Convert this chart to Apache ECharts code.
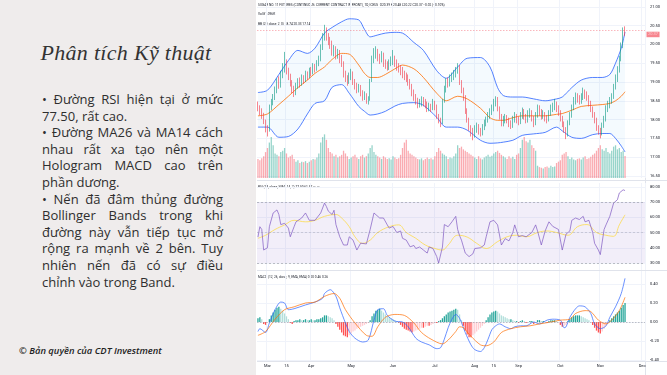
<!DOCTYPE html>
<html>
<head>
<meta charset="utf-8">
<script src="https://cdn.jsdelivr.net/npm/echarts@6/dist/echarts.min.js"></script>
<style>
html, body { margin: 0; padding: 0; width: 667px; height: 375px; overflow: hidden; background: #fff; }
#chart { position: absolute; left: 0; top: 0; width: 667px; height: 375px; }
#side { position: absolute; left: 0; top: 0; width: 256px; height: 375px; background: #efecec; color: #2e2e2e; font-family: 'Open Sans', sans-serif; }
#title { position: absolute; left: 0; top: 38px; width: 252px; line-height: 30px; text-align: center; font-family: 'Liberation Serif', serif; font-style: italic; font-size: 22px; letter-spacing: 0.3px; color: #333; }
#notes { position: absolute; left: 42px; top: 91px; width: 181px; font-size: 13px; line-height: 16.6px; }
#notes div { text-align: justify; text-align-last: justify; }
#notes div.end { text-align-last: left; }
#copy { position: absolute; left: 19px; top: 345px; font-size: 9.4px; line-height: 12px; font-style: italic; font-weight: 600; color: #222; }
</style>
</head>
<body>
<div id="chart"></div>
<div id="side">
  <div id="title">Phân tích Kỹ thuật</div>
  <div id="notes">
    <div>• Đường RSI hiện tại ở mức</div>
    <div class="end">77.50, rất cao.</div>
    <div>• Đường MA26 và MA14 cách</div>
    <div>nhau rất xa tạo nên một</div>
    <div>Hologram MACD cao trên</div>
    <div class="end">phần dương.</div>
    <div>• Nến đã đâm thủng đường</div>
    <div>Bollinger Bands trong khi</div>
    <div>đường này vẫn tiếp tục mở</div>
    <div>rộng ra mạnh về 2 bên. Tuy</div>
    <div>nhiên nến đã có sự điều</div>
    <div class="end">chỉnh vào trong Band.</div>
  </div>
  <div id="copy">© Bản quyền của CDT Investment</div>
</div>
<script>
// ---- data ----
const firstDay = '2022-02-22', lastDay = '2022-12-02';
const monthNames = ['Jan', 'Feb', 'Mar', 'Apr', 'May', 'Jun', 'Jul', 'Aug', 'Sep', 'Oct', 'Nov', 'Dec'];
const midMonthDays = ['2022-03-15', '2022-08-15'];

// [open, close, low, high]
const candleOCLH = [
  [18.40,18.30,18.22,18.48],[18.30,18.20,18.12,18.38],[18.22,18.10,18.02,18.30],[18.12,17.95,17.88,18.18],[17.95,17.75,17.66,18.00],
  [17.78,17.70,17.55,17.85],[17.72,18.35,17.68,18.40],[18.32,18.45,18.25,18.55],[18.45,18.60,18.38,18.68],[18.60,18.80,18.52,18.88],
  [18.78,19.00,18.70,19.10],[19.02,18.90,18.82,19.15],[18.90,19.20,18.85,19.30],[19.20,19.35,19.10,19.50],[19.38,19.45,19.25,19.80],
  [19.48,19.30,19.20,19.60],[19.30,19.15,19.05,19.38],[19.15,18.95,18.88,19.22],[18.95,18.80,18.70,19.05],[18.80,18.70,18.60,18.90],
  [18.70,18.90,18.65,18.98],[18.90,19.00,18.82,19.10],[19.00,18.95,18.85,19.12],[18.95,19.10,18.90,19.20],[19.10,19.05,18.95,19.18],
  [19.05,19.20,19.00,19.30],[19.20,19.15,19.05,19.28],[19.15,19.30,19.10,19.38],[19.30,19.25,19.15,19.40],[19.25,19.40,19.20,19.50],
  [19.40,19.35,19.25,19.48],[19.35,19.50,19.30,19.58],[19.50,19.60,19.42,19.70],[19.62,19.90,19.55,20.00],[19.90,20.20,19.85,20.30],
  [20.20,20.35,20.10,20.52],[20.35,20.20,20.10,20.45],[20.20,20.10,19.98,20.30],[20.10,20.00,19.88,20.20],[20.00,19.80,19.70,20.10],
  [19.80,19.85,19.68,19.98],[19.85,19.70,19.60,19.95],[19.70,19.75,19.62,19.88],[19.75,19.60,19.50,19.85],[19.60,19.50,19.40,19.72],
  [19.50,19.20,19.12,19.55],[19.20,19.10,19.00,19.30],[19.10,19.00,18.90,19.18],[19.00,19.15,18.95,19.25],[19.15,19.20,19.05,19.35],
  [19.20,19.00,18.92,19.28],[19.00,18.90,18.80,19.08],[18.90,18.80,18.70,18.98],[18.80,18.85,18.72,18.95],[18.85,18.70,18.62,18.92],
  [18.70,18.60,18.50,18.78],[18.60,18.65,18.52,18.75],[18.65,18.50,18.42,18.70],[18.50,18.55,18.40,18.62],[18.55,19.00,18.50,19.08],
  [19.05,19.60,19.00,19.70],[19.60,19.75,19.50,19.90],[19.75,19.80,19.62,19.95],[19.80,19.65,19.55,19.88],[19.65,19.60,19.48,19.75],
  [19.60,19.70,19.52,19.82],[19.70,19.50,19.40,19.78],[19.50,19.45,19.35,19.60],[19.45,19.40,19.30,19.55],[19.40,19.50,19.32,19.60],
  [19.50,19.55,19.42,19.68],[19.55,19.60,19.45,19.85],[19.60,19.50,19.40,19.70],[19.50,19.40,19.30,19.60],[19.40,19.35,19.25,19.50],
  [19.35,19.30,19.18,19.45],[19.30,19.20,19.10,19.40],[19.20,19.15,19.05,19.30],[19.15,19.10,19.00,19.25],[19.10,19.00,18.90,19.20],
  [19.00,18.90,18.80,19.08],[18.90,18.70,18.62,18.95],[18.70,18.60,18.50,18.80],[18.60,18.50,18.40,18.68],[18.50,18.40,18.30,18.58],
  [18.40,18.45,18.32,18.55],[18.45,18.50,18.35,18.62],[18.50,18.45,18.35,18.60],[18.45,18.40,18.30,18.55],[18.40,18.30,18.20,18.48],
  [18.30,18.35,18.22,18.45],[18.35,18.30,18.20,18.42],[18.30,18.40,18.25,18.55],[18.40,18.35,18.25,18.50],[18.35,18.10,18.02,18.40],
  [18.10,18.00,17.90,18.15],[18.00,17.90,17.80,18.05],[17.92,18.50,17.88,18.55],[18.50,18.80,18.45,18.90],[18.80,19.00,18.72,19.10],
  [19.00,18.95,18.85,19.12],[18.95,19.10,18.88,19.20],[19.10,19.15,19.00,19.25],[19.15,19.20,19.05,19.32],[19.20,19.30,19.12,19.40],
  [19.30,19.40,19.22,19.50],[19.40,19.00,18.92,19.45],[19.00,18.80,18.70,19.05],[18.80,18.60,18.50,18.85],[18.60,18.25,18.15,18.65],
  [18.25,18.00,17.92,18.30],[18.00,17.80,17.70,18.05],[17.80,17.70,17.55,17.85],[17.70,17.60,17.45,17.78],[17.60,17.75,17.52,17.85],
  [17.75,17.80,17.65,17.92],[17.80,17.70,17.60,17.88],[17.70,17.65,17.55,17.78],[17.65,17.80,17.58,17.88],[17.80,17.90,17.72,18.00],
  [17.90,18.00,17.82,18.08],[18.00,18.10,17.92,18.20],[18.10,18.20,18.02,18.30],[18.20,18.30,18.12,18.40],[18.30,18.45,18.22,18.55],
  [18.45,18.55,18.35,18.62],[18.55,18.30,18.22,18.60],[18.30,18.10,18.00,18.35],[18.10,17.90,17.82,18.15],[17.90,18.00,17.82,18.10],
  [18.00,18.05,17.90,18.15],[18.05,18.00,17.90,18.12],[18.00,17.90,17.80,18.05],[17.90,17.85,17.75,17.98],[17.85,18.00,17.78,18.10],
  [18.00,18.10,17.92,18.20],[18.10,18.00,17.90,18.15],[18.00,17.95,17.85,18.08],[17.95,18.10,17.88,18.20],[18.10,18.20,18.02,18.32],
  [18.20,18.10,18.00,18.28],[18.10,18.00,17.90,18.15],[18.00,18.15,17.92,18.25],[18.15,18.20,18.05,18.30],[18.20,18.05,17.95,18.25],
  [18.05,17.90,17.80,18.10],[17.90,18.10,17.85,18.20],[18.10,18.30,18.05,18.40],[18.30,18.20,18.10,18.38],[18.20,18.10,18.00,18.28],
  [18.10,18.15,18.02,18.25],[18.15,18.05,17.95,18.20],[18.05,18.00,17.90,18.12],[18.00,18.15,17.95,18.25],[18.15,18.30,18.10,18.40],
  [18.30,18.35,18.20,18.45],[18.35,18.40,18.25,18.55],[18.40,18.30,18.20,18.48],[18.30,18.20,18.10,18.38],[18.20,18.05,17.95,18.25],
  [18.05,17.90,17.80,18.10],[17.90,17.75,17.65,17.95],[17.75,17.60,17.48,17.80],[17.60,17.90,17.55,17.98],[17.90,18.10,17.85,18.20],
  [18.10,18.30,18.05,18.40],[18.30,18.50,18.25,18.60],[18.50,18.60,18.40,18.72],[18.60,18.55,18.45,18.70],[18.55,18.50,18.40,18.65],
  [18.50,18.60,18.42,18.70],[18.60,18.70,18.52,18.85],[18.70,18.65,18.55,18.80],[18.65,18.60,18.50,18.75],[18.60,18.45,18.35,18.65],
  [18.45,18.30,18.20,18.50],[18.30,18.15,18.05,18.35],[18.15,18.00,17.90,18.20],[18.00,17.80,17.70,18.05],[17.80,17.70,17.60,17.85],
  [17.70,17.65,17.50,17.78],[17.65,17.85,17.58,17.92],[17.85,18.00,17.78,18.10],[18.00,18.30,17.95,18.38],[18.30,18.40,18.20,18.50],
  [18.40,18.50,18.30,18.60],[18.50,18.60,18.42,18.70],[18.60,18.85,18.55,18.95],[18.85,19.10,18.80,19.20],[19.10,19.30,19.00,19.42],
  [19.30,19.60,19.25,19.70],[19.60,19.95,19.55,20.05],[19.95,20.39,19.90,20.45],[20.39,20.37,20.22,20.48]
];

// volume, thousands
const volumes = [
  70,65,72,80,95,110,130,150,120,90, 85,80,95,100,110,90,75,80,85,70,
  60,65,55,60,58,62,55,60,65,70, 68,75,90,130,150,160,140,110,95,90,
  80,85,75,80,85,100,90,80,70,75, 80,85,75,70,80,85,75,80,90,110,
  120,95,85,80,75,70,80,75,70,72, 68,80,75,70,72,85,110,130,140,100,
  90,85,80,75,70,68,72,65,70,75, 70,72,68,80,95,110,100,90,85,80,
  70,75,72,80,90,120,110,115,105,100, 95,90,85,80,75,70,80,72,68,75,
  80,85,78,82,90,95,100,92,85,80, 75,70,80,72,78,70,85,90,110,140,
  150,135,130,140,120,110,100,45,40,38, 35,40,42,38,45,40,42,55,60,65,
  85,90,95,80,70,75,68,65,70,72, 68,75,80,70,72,78,85,90,100,110,
  120,105,100,110,95,90,100,115,120,105, 110,95,100,81.096
];

// Bollinger Bands (20, 2) read at these bar numbers
const bbIdx   = [0,5,11,16,21,26,30,35,39,44,48,53,56,59,63,67,72,76,82,87,94,99,105,110,117,122,126,129,134,139,145,151,157,160,165,170,176,181,185,188,191,193];
const bbUpper = [18.72,18.78,19.20,19.57,19.84,19.76,19.90,20.30,20.45,20.60,20.68,20.65,20.40,20.20,20.25,20.30,20.32,20.30,20.05,19.84,19.30,19.10,19.40,19.63,19.65,19.40,18.85,18.64,18.60,18.60,18.55,18.50,18.55,18.60,18.85,19.05,19.12,19.12,19.20,19.50,19.90,20.33];
const bbBasis = [18.10,18.15,18.40,18.62,18.85,19.05,19.23,19.40,19.60,19.76,19.74,19.45,19.23,19.12,19.12,19.20,19.35,19.45,19.35,19.12,18.70,18.50,18.62,18.55,18.30,18.05,17.98,17.98,18.05,18.10,18.10,18.10,18.14,18.16,18.25,18.35,18.38,18.40,18.43,18.50,18.62,18.74];
const bbLower = [17.80,17.80,17.53,17.55,17.75,18.15,18.43,18.50,18.86,18.93,18.70,18.35,18.22,18.12,18.15,18.22,18.36,18.43,18.45,18.38,18.06,17.80,17.80,17.72,17.45,17.37,17.38,17.40,17.45,17.58,17.62,17.66,17.80,17.70,17.53,17.50,17.60,17.63,17.63,17.50,17.30,17.14];

// RSI 14 and its SMA 14, [bar, value]
const rsiPts = [[0,47],[1,53.8],[2,52],[3,38.5],[5,40],[6,53.8],[8,62.8],[10,64.8],[11,61.8],[12,55.2],[14,56],[16,52.9],[17,47.2],[19,53.8],[20,57],[23,59.5],[25,62.8],[27,58],[28,57],[30,58],[33,62.8],[35,69.3],[36,67],[37,64],[39,61.8],[40,64.6],[41,55.2],[43,47.2],[45,41.8],[47,41.8],[48,47.2],[50,45],[52,38.5],[54,43],[55,41.8],[57,42.5],[59,52],[61,62.8],[62,64],[64,59.5],[66,59.5],[68,55],[69,52.9],[71,54],[73,50],[75,51],[76,46.2],[78,45],[80,40.6],[82,41.5],[83,39.5],[85,40.5],[87,38.5],[89,36.5],[90,40.5],[92,39.5],[94,34.2],[95,30],[97,40.5],[98,55.2],[100,53.8],[102,57],[104,60.6],[105,52],[106,48],[107,45],[109,36.5],[111,34.2],[113,36],[114,39.5],[117,40],[119,41.8],[120,47.2],[122,57],[124,58],[126,55],[128,41.8],[130,46],[132,44.5],[134,50],[135,55],[137,47.2],[139,48],[141,47.2],[144,50],[146,55],[147,51],[149,41.8],[151,51],[153,57],[155,54],[156,53],[158,52],[160,38.5],[162,49],[164,51],[165,58],[167,59.5],[169,58.5],[171,60.6],[172,57],[174,58],[176,50],[177,42.9],[179,38.5],[180,35.5],[182,52],[183,55],[185,60.6],[187,69.3],[189,71.5],[190,75.9],[192,78],[193,77.5]];
const rsiMaPts = [[0,46.2],[4,48.2],[9,52],[14,55],[19,58],[25,57],[30,58],[35,60.6],[41,61.8],[44,59.5],[48,53.8],[51,47.2],[55,42.9],[59,45],[63,50],[69,53.8],[74,55],[78,50],[83,46.2],[88,41.8],[93,39.5],[97,38.5],[100,41.8],[105,48.2],[110,47],[115,42.9],[120,39.5],[126,44],[131,47.2],[136,48.2],[141,47.2],[147,50],[152,51],[157,50],[163,48.2],[168,53.8],[173,55.2],[178,50],[183,48.2],[187,47.5],[190,55],[193,61.57]];

// MACD (12, 26, 9), [bar, value]
const macdPts = [[0,-0.10],[1,-0.07],[4,-0.11],[6,-0.01],[9,0.13],[12,0.21],[14,0.20],[16,0.13],[19,0.14],[25,0.18],[30,0.21],[34,0.25],[35,0.30],[38,0.34],[41,0.27],[43,0.15],[46,-0.01],[48,-0.10],[51,-0.17],[55,-0.21],[58,-0.19],[61,0.02],[63,0.13],[66,0.14],[68,0.07],[72,0.01],[76,0.0],[79,-0.05],[83,-0.17],[86,-0.21],[90,-0.24],[94,-0.28],[96,-0.27],[98,-0.18],[100,-0.06],[102,0.03],[104,0.08],[106,0.04],[109,-0.11],[112,-0.24],[114,-0.29],[117,-0.31],[119,-0.27],[121,-0.18],[123,-0.08],[125,-0.04],[127,-0.02],[130,-0.05],[133,-0.07],[135,-0.05],[138,-0.04],[141,-0.04],[145,0.0],[148,-0.02],[152,0.02],[155,0.03],[159,0.02],[161,-0.06],[162,-0.05],[164,0.05],[167,0.14],[169,0.17],[172,0.16],[175,0.09],[177,-0.02],[180,-0.07],[183,-0.04],[185,0.05],[188,0.16],[191,0.30],[193,0.46]];
const signalPts = [[0,-0.14],[4,-0.10],[9,0.03],[14,0.13],[19,0.16],[25,0.20],[30,0.21],[35,0.27],[40,0.30],[43,0.25],[46,0.13],[51,-0.01],[57,-0.14],[60,-0.15],[63,-0.05],[67,0.05],[72,0.08],[77,0.07],[82,-0.01],[86,-0.11],[91,-0.18],[97,-0.23],[100,-0.19],[104,-0.10],[106,-0.05],[108,-0.06],[112,-0.15],[117,-0.24],[120,-0.25],[124,-0.21],[128,-0.11],[133,-0.07],[138,-0.05],[143,-0.04],[148,-0.02],[154,0.0],[159,0.02],[164,0.03],[167,0.09],[172,0.12],[175,0.11],[179,0.02],[183,-0.02],[186,0.02],[190,0.12],[193,0.26]];
const macdHist = [
  0.04,0.05,0.03,-0.02,-0.03,-0.01,0.03,0.07,0.10,0.13, 0.15,0.16,0.14,0.12,0.09,0.06,0.03,-0.01,-0.02,0.01,
  0.02,0.02,0.03,0.02,0.02,0.03,0.02,0.02,0.03,0.02, 0.02,0.03,0.03,0.04,0.05,0.07,0.07,0.06,0.05,0.04,
  0.02,-0.02,-0.05,-0.08,-0.11,-0.14,-0.15,-0.16,-0.14,-0.12, -0.10,-0.09,-0.07,-0.06,-0.05,-0.04,-0.03,-0.02,-0.01,0.02,
  0.06,0.09,0.12,0.13,0.14,0.12,0.10,0.08,0.06,0.05, 0.04,0.03,0.02,0.01,-0.01,-0.03,-0.05,-0.07,-0.08,-0.09,
  -0.10,-0.11,-0.10,-0.09,-0.08,-0.07,-0.06,-0.06,-0.05,-0.04, -0.04,-0.03,-0.02,-0.01,-0.01,0.01,0.02,0.04,0.06,0.08,
  0.10,0.11,0.12,0.13,0.14,0.13,0.08,0.02,-0.04,-0.09, -0.13,-0.16,-0.16,-0.14,-0.12,-0.10,-0.08,-0.06,-0.04,-0.02,
  0.02,0.05,0.08,0.10,0.11,0.12,0.11,0.09,0.07,0.06, 0.05,0.04,0.03,0.03,0.02,0.01,0.01,-0.01,0.01,0.02,
  0.01,-0.01,0.00,0.01,0.01,-0.02,0.00,0.02,0.02,0.01, 0.01,0.00,-0.01,0.01,0.02,0.02,0.02,0.01,0.00,-0.03,
  -0.05,-0.04,-0.03,0.01,0.03,0.05,0.06,0.07,0.07,0.07, 0.06,0.05,0.04,0.03,0.02,0.00,-0.03,-0.06,-0.09,-0.11,
  -0.12,-0.10,-0.07,-0.04,-0.01,0.02,0.04,0.06,0.08,0.10, 0.12,0.15,0.18,0.20
];

const priceTicks = [16.5, 17, 17.5, 18, 18.5, 19, 19.5, 20, 20.5, 21];
const rsiTicks = [30, 40, 50, 60, 70, 80];
const macdTicks = [-0.4, -0.2, 0, 0.2, 0.4];

// trading days (weekdays) for the time axis
const dates = [];
for (let d = new Date(firstDay + 'T00:00:00Z'); d <= new Date(lastDay + 'T00:00:00Z'); d.setUTCDate(d.getUTCDate() + 1)) {
  const wd = d.getUTCDay();
  if (wd !== 0 && wd !== 6) dates.push(d.toISOString().slice(0, 10));
}

function isTick(i) {
  if (i === 0) return false;
  return dates[i].slice(5, 7) !== dates[i - 1].slice(5, 7) || midMonthDays.includes(dates[i]);
}
function tickText(d) {
  return midMonthDays.includes(d) ? '15' : monthNames[+d.slice(5, 7) - 1];
}

const UP = '#089981', DOWN = '#f23645';
const gridLine = '#f0f3fa';
const axisText = { fontSize: 4, color: '#131722', fontFamily: 'Roboto' };
const L = 257, W = 388;

function xAxisFor(g) {
  return {
    type: 'category', gridIndex: g, data: dates, boundaryGap: true,
    axisLine: { show: false }, axisTick: { show: false },
    axisLabel: Object.assign({ show: g === 3, interval: (i) => isTick(i), formatter: (v) => tickText(v), margin: 3 }, axisText),
    splitLine: { show: true, interval: (i) => isTick(i), lineStyle: { color: gridLine, width: 1 } }
  };
}
function yAxisFor(g, min, max, ticks, digits) {
  return {
    type: 'value', gridIndex: g, position: 'right', min: min, max: max, scale: true,
    axisLine: { show: false },
    axisTick: { show: false, customValues: ticks },
    axisLabel: Object.assign({ customValues: ticks, formatter: (v) => v.toFixed(digits), margin: 5 }, axisText),
    splitLine: { lineStyle: { color: gridLine, width: 1 } }
  };
}
// value tag on the price scale
function tag(value, text, bg, fg, dy) {
  return {
    yAxis: value,
    lineStyle: { opacity: 0 },
    label: { show: true, position: 'end', formatter: text, backgroundColor: bg, color: fg || '#fff',
             fontSize: 4, fontFamily: 'Roboto', padding: [1, 1.5, 0.5, 1.5], distance: 1.5, offset: [0, dy || 0] }
  };
}
const noMark = { symbol: ['none', 'none'], silent: true, label: { show: false } };

const last = candleOCLH[candleOCLH.length - 1];
const bbBand = bbIdx.map((i, k) => [i, +(bbUpper[k] - bbLower[k]).toFixed(2)]);

function histColor(i) {
  const v = macdHist[i], p = i > 0 ? macdHist[i - 1] : v;
  if (v >= 0) return v >= p ? '#26a69a' : '#b2dfdb';
  return v <= p ? '#ff5252' : '#ffcdd2';
}

const fs = 3.2;
function header(x, y, text, rich) {
  return { type: 'text', left: x, top: y, silent: true, style: { text: text, rich: rich, fontSize: fs, fontFamily: 'Roboto', fill: '#131722' } };
}
function richColor(c) { return { fontSize: fs, fontFamily: 'Roboto', color: c }; }
const richBase = {
  g: richColor('#131722'), r: richColor(DOWN), o: richColor('#ff6d00'), b: richColor('#2962ff'),
  p: richColor('#7e57c2'), y: richColor('#e0c400'), t: richColor('#26a69a'), n: richColor('#9598a1')
};

const sepColor = '#e0e3eb';
function hline(y, x1, x2) {
  return { type: 'line', silent: true, shape: { x1: x1, y1: y, x2: x2, y2: y }, style: { stroke: sepColor, lineWidth: 1 } };
}

const option = {
  animation: false,
  backgroundColor: '#fff',
  grid: [
    { left: L, top: 0, width: W, height: 176 },
    { left: L, top: 118, width: W, height: 60 },
    { left: L, top: 183, width: W, height: 87 },
    { left: L, top: 271, width: W, height: 90 }
  ],
  xAxis: [xAxisFor(0), xAxisFor(1), xAxisFor(2), xAxisFor(3)],
  yAxis: [
    yAxisFor(0, 16.5, 21.18, priceTicks, 2),
    { type: 'value', gridIndex: 1, min: 0, max: 220, show: false },
    yAxisFor(2, 25.41, 82.46, rsiTicks, 2),
    yAxisFor(3, -0.41, 0.537, macdTicks, 2)
  ],
  graphic: [
    hline(180.5, L, 667), hline(270.5, L, 667), hline(361.5, L, 667),
    { type: 'line', silent: true, shape: { x1: 645.5, y1: 0, x2: 645.5, y2: 375 }, style: { stroke: sepColor, lineWidth: 1 } },
    header(258, 3.5, '{g|SUGAR NO. 11 FUTURES (CONTINUOUS: CURRENT CONTRACT IN FRONT), 1D, ICEUS}  {g|O}{r|20.39} {g|H}{r|20.48} {g|L}{r|20.22} {g|C}{r|20.37 −0.02 (−0.10%)}', richBase),
    header(258, 13, '{g|Vol} {r|81.096K}', richBase),
    header(258, 22.5, '{g|BB (20, close, 2, 0)} {o|18.74} {b|20.33} {b|17.14}', richBase),
    header(258, 185.5, '{g|RSI (14, close, SMA, 14, 2)} {p|77.50} {y|61.57} {n|∅ ∅}', richBase),
    header(258, 275.5, '{g|MACD (12, 26, close, 9, EMA, EMA)} {t|0.20} {b|0.46} {o|0.26}', richBase)
  ],
  series: [
    {
      name: 'BB lower', type: 'line', xAxisIndex: 0, yAxisIndex: 0, stack: 'bb', smooth: 0.3, symbol: 'none', z: 1,
      data: bbIdx.map((i, k) => [i, bbLower[k]]),
      lineStyle: { color: '#2962ff', width: 0.8 },
      markLine: Object.assign({}, noMark, { data: [tag(bbLower[bbLower.length - 1], '17.14', '#2962ff')] })
    },
    {
      name: 'BB upper', type: 'line', xAxisIndex: 0, yAxisIndex: 0, stack: 'bb', smooth: 0.3, symbol: 'none', z: 1,
      data: bbBand,
      lineStyle: { color: '#2962ff', width: 0.8 },
      areaStyle: { color: 'rgba(33,150,243,0.07)' },
      markLine: Object.assign({}, noMark, { data: [tag(bbUpper[bbUpper.length - 1], '20.33', '#2962ff', '#fff', -5.5)] })
    },
    {
      name: 'BB basis', type: 'line', xAxisIndex: 0, yAxisIndex: 0, smooth: 0.3, symbol: 'none', z: 2,
      data: bbIdx.map((i, k) => [i, bbBasis[k]]),
      lineStyle: { color: '#ff6d00', width: 0.8 },
      markLine: Object.assign({}, noMark, { data: [tag(bbBasis[bbBasis.length - 1], '18.74', '#ff6d00')] })
    },
    {
      name: 'Sugar', type: 'candlestick', xAxisIndex: 0, yAxisIndex: 0, z: 4,
      data: candleOCLH, barWidth: 1.2,
      itemStyle: { color: UP, color0: DOWN, borderColor: UP, borderColor0: DOWN, borderWidth: 0.6 },
      markLine: {
        symbol: ['none', 'none'], silent: true,
        data: [Object.assign(tag(last[1], last[1].toFixed(2), DOWN, '#fff', 4),
               { lineStyle: { color: DOWN, type: [1.5, 1.5], width: 0.6, opacity: 0.6 } })]
      }
    },
    {
      name: 'Vol', type: 'bar', xAxisIndex: 1, yAxisIndex: 1, barWidth: 1.3, z: 3,
      data: volumes.map((v, i) => ({
        value: v,
        itemStyle: { color: candleOCLH[i][1] >= candleOCLH[i][0] ? 'rgba(8,153,129,0.42)' : 'rgba(242,54,69,0.42)' }
      })),
      markLine: Object.assign({}, noMark, { data: [tag(volumes[volumes.length - 1], '81.096K', '#f7525f', '#fff', 5)] })
    },
    {
      name: 'RSI', type: 'line', xAxisIndex: 2, yAxisIndex: 2, symbol: 'none', z: 3,
      data: rsiPts,
      lineStyle: { color: '#7e57c2', width: 0.7 },
      markArea: { silent: true, itemStyle: { color: 'rgba(126,87,194,0.1)' }, data: [[{ yAxis: 70 }, { yAxis: 30 }]] },
      markLine: {
        symbol: ['none', 'none'], silent: true, label: { show: false },
        lineStyle: { color: '#9598a1', type: [2, 2], width: 0.6 },
        data: [{ yAxis: 70 }, { yAxis: 50, lineStyle: { opacity: 0.6 } }, { yAxis: 30 },
               tag(77.5, '77.50', '#7e57c2', '#fff', -1.5)]
      }
    },
    {
      name: 'RSI MA', type: 'line', xAxisIndex: 2, yAxisIndex: 2, symbol: 'none', smooth: 0.4, z: 2,
      data: rsiMaPts,
      lineStyle: { color: '#fdd835', width: 0.7 },
      markLine: Object.assign({}, noMark, { data: [tag(61.57, '61.57', '#ffeb3b', '#131722')] })
    },
    {
      name: 'Histogram', type: 'bar', xAxisIndex: 3, yAxisIndex: 3, barWidth: 1.3, z: 2,
      data: macdHist.map((v, i) => ({ value: v, itemStyle: { color: histColor(i) } })),
      markLine: {
        symbol: ['none', 'none'], silent: true, label: { show: false },
        lineStyle: { color: '#9598a1', type: [1.5, 1.5], width: 0.6 },
        data: [{ yAxis: 0 }, tag(0.20, '0.20', '#26a69a', '#fff', 1)]
      }
    },
    {
      name: 'MACD', type: 'line', xAxisIndex: 3, yAxisIndex: 3, symbol: 'none', smooth: 0.3, z: 3,
      data: macdPts,
      lineStyle: { color: '#2962ff', width: 0.7 },
      markLine: Object.assign({}, noMark, { data: [tag(0.46, '0.46', '#2962ff', '#fff', 3)] })
    },
    {
      name: 'Signal', type: 'line', xAxisIndex: 3, yAxisIndex: 3, symbol: 'none', smooth: 0.3, z: 3,
      data: signalPts,
      lineStyle: { color: '#ff6d00', width: 0.7 },
      markLine: Object.assign({}, noMark, { data: [tag(0.26, '0.26', '#ff6d00', '#fff', -1.5)] })
    }
  ]
};

const myChart = echarts.init(document.getElementById('chart'));
myChart.setOption(option);
</script>
</body>
</html>
